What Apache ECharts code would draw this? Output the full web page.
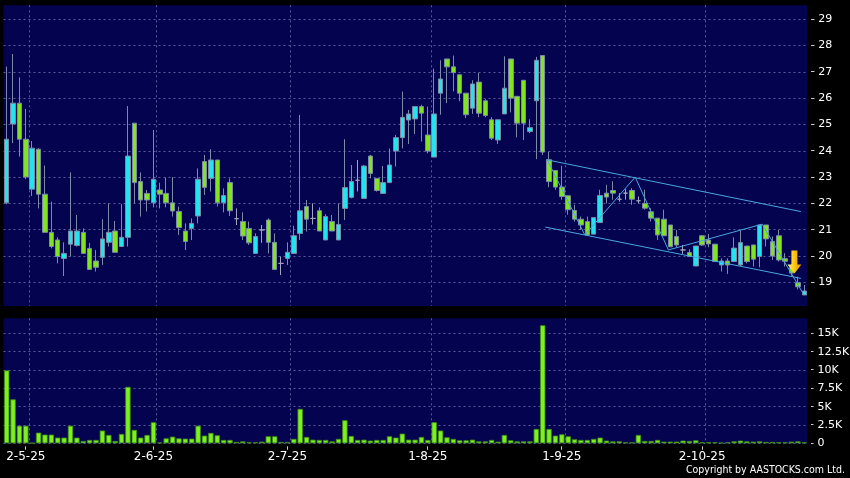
<!DOCTYPE html>
<html><head><meta charset="utf-8">
<script src="https://cdn.jsdelivr.net/npm/echarts@6/dist/echarts.min.js"></script>
<style>html,body{margin:0;padding:0;background:#000;}#c{width:850px;height:478px;}</style>
</head><body><div id="c"></div>
<script>
// HK trading days shown on the chart
const tradingDays = {
  '2025-04': [28,29,30],
  '2025-05': [2,6,7,8,9,12,13,14,15,16,19,20,21,22,23,26,27,28,29,30],
  '2025-06': [2,3,4,5,6,9,10,11,12,13,16,17,18,19,20,23,24,25,26,27,30],
  '2025-07': [2,3,4,7,8,9,10,11,14,15,16,17,18,21,22,23,24,25,28,29,30,31],
  '2025-08': [1,4,5,6,7,8,11,12,13,14,15,18,19,20,21,22,25,26,27,28,29],
  '2025-09': [1,2,3,4,5,8,9,10,11,12,15,16,17,18,19,22,23,24,25,26,29,30],
  '2025-10': [2,3,6,8,9,10,13,14,15,16,17,20,21,22,23,24,27]
};
const openP = [22.02,25.02,25.81,24.44,22.54,24.06,22.35,20.90,20.61,19.91,20.45,20.40,20.90,20.29,19.81,19.95,20.52,20.95,20.36,20.71,
25.05,22.83,22.38,22.02,22.51,22.38,22.02,21.69,20.95,21.05,21.52,23.59,22.95,23.65,22.02,22.79,21.42,21.31,21.05,20.10,
20.99,21.37,20.52,19.72,19.91,20.10,20.86,21.88,21.43,21.72,20.61,21.31,20.61,21.81,22.23,22.88,22.19,23.80,22.95,22.38,
22.79,23.99,24.50,25.17,25.21,25.68,24.60,23.76,26.19,27.49,27.19,26.89,26.19,25.62,26.61,25.90,25.18,24.41,25.40,27.49,
26.07,26.68,24.73,25.90,27.62,23.66,23.25,22.62,22.29,21.73,21.40,21.31,20.83,21.27,22.39,22.49,22.16,22.39,22.49,22.10,
22.00,21.68,21.44,21.40,21.18,20.74,20.23,20.13,19.62,20.77,20.61,20.45,19.66,19.81,19.79,19.66,20.38,20.42,19.98,21.18,
20.55,20.77,19.90,19.55,18.98,18.52];
const closeP = [24.44,25.81,24.44,23.00,24.10,22.35,20.90,20.36,19.98,20.10,20.95,20.95,20.10,19.49,19.57,20.65,20.90,20.14,20.71,23.80,
22.79,22.13,22.13,22.92,22.35,22.02,21.71,21.08,20.55,21.24,22.92,22.61,23.65,22.02,22.30,21.72,21.42,20.76,20.50,20.74,
20.99,20.52,19.49,19.72,20.14,20.77,21.72,21.40,21.43,20.95,21.50,20.95,21.20,22.60,22.83,22.88,23.42,23.14,22.49,22.79,
23.46,24.50,25.27,25.40,25.68,25.43,23.99,25.40,26.73,27.19,26.97,26.19,25.37,26.54,25.43,25.34,24.48,25.18,26.38,26.00,
25.05,25.05,24.88,27.44,23.95,22.83,22.62,22.26,21.76,21.40,21.18,20.80,21.46,22.30,22.24,22.39,22.16,22.39,22.16,22.10,
21.82,21.44,20.80,20.77,20.35,20.42,20.23,19.98,20.38,20.42,20.46,19.79,19.81,19.66,20.30,20.51,19.79,19.88,21.18,20.65,
20.00,19.85,19.80,19.35,18.83,18.67];
const lowP = [21.97,24.29,23.78,22.92,22.28,21.81,20.90,20.29,19.72,19.24,19.98,20.36,20.10,19.49,19.41,19.66,20.36,20.14,20.36,20.36,
22.00,21.50,21.69,21.85,21.81,21.85,21.50,20.80,20.23,20.61,21.24,22.32,22.45,21.88,21.66,21.52,21.18,20.61,20.42,20.10,
20.50,20.10,19.49,19.28,19.66,20.10,20.61,20.93,21.20,20.95,20.61,20.95,20.61,21.37,22.19,22.45,22.19,22.95,22.45,22.38,
22.79,23.40,24.09,24.26,24.64,24.35,23.90,23.76,25.37,25.81,26.26,25.88,25.24,25.40,25.28,25.28,24.41,24.26,25.40,25.46,
24.51,24.41,24.67,23.68,23.84,22.62,22.52,22.14,21.57,21.31,20.99,20.77,20.83,21.27,22.00,22.14,22.07,22.14,21.95,22.00,
21.76,21.31,20.61,20.77,20.35,20.33,20.08,19.98,19.62,20.38,20.33,19.79,19.41,19.32,19.79,19.62,19.72,19.60,19.57,20.36,
19.85,19.79,19.60,19.25,18.73,18.52];
const highP = [27.20,27.68,26.79,25.59,24.37,24.10,23.44,22.07,20.71,20.52,23.18,21.56,21.05,20.50,20.23,21.40,22.00,21.33,21.98,25.70,
25.05,23.18,22.51,24.79,22.79,22.98,23.00,21.88,21.24,21.43,23.33,23.84,24.06,23.65,22.57,22.95,21.81,21.66,21.31,20.86,
21.18,21.43,20.86,19.98,20.52,21.15,25.36,22.13,22.00,21.85,21.59,21.56,22.00,24.44,23.46,23.65,23.46,23.84,22.95,23.42,
24.09,24.60,26.25,25.55,25.68,25.75,25.68,27.12,27.44,27.49,27.62,26.89,26.19,26.68,26.96,25.96,25.28,25.18,27.59,27.49,
26.07,26.68,25.20,27.57,27.62,23.97,23.25,23.43,22.29,21.95,21.50,21.50,21.46,22.52,22.71,22.84,22.39,22.54,22.58,22.26,
22.52,21.82,21.44,21.76,21.18,20.99,20.42,20.26,20.38,20.80,20.84,20.45,19.91,19.91,20.71,20.97,20.38,20.42,21.18,21.18,
20.74,20.99,20.11,19.70,19.22,18.90];
// volume, thousands
const volumeK = [9.95,6.0,2.4,2.4,0.05,1.46,1.19,1.19,0.78,0.78,2.4,0.78,0.32,0.46,0.46,1.74,1.14,0.32,1.28,7.7,
1.83,0.78,1.14,2.88,0.1,0.68,0.91,0.68,0.64,0.64,2.4,1.05,1.42,1.1,0.46,0.46,0.18,0.27,0.14,0.14,
0.23,0.96,0.96,0.18,0.18,0.6,4.7,0.87,0.5,0.46,0.46,0.27,0.6,3.15,1.0,0.46,0.5,0.37,0.46,0.46,
0.96,0.78,1.32,0.5,0.5,0.87,0.46,2.88,1.74,0.82,0.6,0.41,0.41,0.5,0.27,0.27,0.46,0.23,1.14,0.41,
0.27,0.27,0.27,1.96,16.1,1.96,1.05,1.23,0.96,0.55,0.46,0.46,0.6,0.78,0.37,0.27,0.27,0.14,0.14,1.14,
0.32,0.32,0.46,0.23,0.23,0.23,0.37,0.32,0.41,0.14,0.14,0.14,0.09,0.14,0.27,0.37,0.27,0.23,0.27,0.18,
0.18,0.14,0.14,0.23,0.27,0.14];
const priceTicks = [19,20,21,22,23,24,25,26,27,28,29];
const volumeTicks = [0,2.5,5,7.5,10,12.5,15];
// drawn annotations, [candle index, price]
const upperChannel = [[84.6,23.66],[124.45,21.69]];
const lowerChannel = [[84.4,21.10],[124.45,19.15]];
const zigzag = [[84.7,23.66],[90.6,20.80],[98.5,23.00],[103.7,20.23],[118.4,21.21],[124.8,18.58]];
const signalArrow = [[123.45,19.77]];
const copyright = 'Copyright by AASTOCKS.com Ltd.';

const dates = [];
Object.keys(tradingDays).forEach(ym => tradingDays[ym].forEach(d => dates.push(ym + '-' + String(d).padStart(2,'0'))));
const N = dates.length;
const monthStartList = [];
dates.forEach((d,i) => { if (i > 0 && d.slice(0,7) !== dates[i-1].slice(0,7)) monthStartList.push(i); });
const monthStarts = new Set(monthStartList);
const monthGrid = monthStartList.map(i => i + 0.5);      // grid line after the first session of each month
const fmtDate = d => { const p = d.split('-'); return (+p[2]) + '-' + (+p[1]) + '-' + p[0].slice(2); };
const ohlc = dates.map((d,i) => [openP[i], closeP[i], lowP[i], highP[i]]);

const BG = '#03034f';
const gridLine = {show:true, lineStyle:{color:'#5a5a9a', type:[2,3], width:1}};
const FONT = 'DejaVu Sans';
const TICK = '#c8c8c8';
const crisp = v => Math.round(v - 0.5) + 0.5;
const valueX = (gridIndex) => ({type:'value', gridIndex, min:-0.5, max:N-0.5,
  axisLine:{show:false}, axisLabel:{show:false}, axisTick:{show:false, customValues:monthGrid}, splitLine:gridLine});

const chart = echarts.init(document.getElementById('c'), null, {renderer:'canvas'});
chart.setOption({
  backgroundColor:'#000',
  animation:false,
  grid:[
    {left:3.5, right:42.5, top:5.3, height:300.7, show:true, backgroundColor:BG, borderWidth:0, containLabel:false, outerBoundsMode:'none'},
    {left:3.5, right:42.5, top:318.3, height:125, show:true, backgroundColor:BG, borderWidth:0, containLabel:false, outerBoundsMode:'none'}
  ],
  xAxis:[
    {type:'category', gridIndex:0, data:dates, boundaryGap:true, show:false},
    {type:'category', gridIndex:1, data:dates, boundaryGap:true,
     axisLine:{show:false}, axisTick:{show:false}, splitLine:{show:false},
     axisLabel:{interval:(i)=>monthStarts.has(i), formatter:fmtDate, color:'#ffffff', fontSize:12, fontFamily:FONT, margin:8}},
    valueX(0),
    valueX(1)
  ],
  yAxis:[
    {type:'value', gridIndex:0, position:'right', min:18.1, max:29.53,
     axisLine:{show:false}, axisTick:{show:false, customValues:priceTicks},
     axisLabel:{customValues:priceTicks, color:'#ffffff', fontSize:11, fontFamily:FONT, margin:10.8},
     splitLine:gridLine},
    {type:'value', gridIndex:1, position:'right', min:0, max:17.05,
     axisLine:{show:false}, axisTick:{show:false, customValues:volumeTicks},
     axisLabel:{customValues:volumeTicks, formatter:(v)=> v===0 ? '0' : v + 'K', color:'#ffffff', fontSize:11, fontFamily:FONT, margin:10},
     splitLine:gridLine}
  ],
  series:[
    {type:'candlestick', xAxisIndex:0, yAxisIndex:0, data:ohlc, barWidth:5,
     itemStyle:{color:'#22e4ee', color0:'#80e41e', borderColor:'#7c8aa6', borderColor0:'#7c8aa6', borderColorDoji:'#a4a4bc', borderWidth:1}},
    {type:'bar', xAxisIndex:1, yAxisIndex:1, data:volumeK, barWidth:'84%',
     itemStyle:{color:'#7ef01e', borderColor:'#3f8a18', borderWidth:0.8}},
    {type:'line', xAxisIndex:2, yAxisIndex:0, data:upperChannel, symbol:'none', silent:true, z:5, lineStyle:{color:'#4aa6e0', width:1}},
    {type:'line', xAxisIndex:2, yAxisIndex:0, data:lowerChannel, symbol:'none', silent:true, z:5, lineStyle:{color:'#4aa6e0', width:1}},
    {type:'line', xAxisIndex:2, yAxisIndex:0, data:zigzag, symbol:'none', silent:true, z:5, lineStyle:{color:'#4aa6e0', width:1}},
    {type:'scatter', xAxisIndex:2, yAxisIndex:0, data:signalArrow, silent:true, z:10,
     symbol:'path://M4,0 L10,0 L10,14 L14,14 L7,23 L0,14 L4,14 Z', symbolSize:[14,23],
     itemStyle:{opacity:1, color:new echarts.graphic.LinearGradient(0,0,1,0,[{offset:0,color:'#fff0a0'},{offset:0.45,color:'#ffcc10'},{offset:1,color:'#e08a00'}])}},
    // small outside tick marks of the price axis
    {type:'custom', xAxisIndex:2, yAxisIndex:0, clip:false, silent:true, data:priceTicks.map(v => [N-0.5, v]),
     renderItem:(p, api) => { const c = api.coord([api.value(0), api.value(1)]); const y = crisp(c[1]);
       return {type:'line', shape:{x1:c[0]+3.5, y1:y, x2:c[0]+7, y2:y}, style:{stroke:TICK, lineWidth:1}}; }},
    // small outside tick marks of the volume axis
    {type:'custom', xAxisIndex:3, yAxisIndex:1, clip:false, silent:true, data:volumeTicks.map(v => [N-0.5, v]),
     renderItem:(p, api) => { const c = api.coord([api.value(0), api.value(1)]); const y = crisp(c[1]);
       return {type:'line', shape:{x1:c[0]+3.5, y1:y, x2:c[0]+6, y2:y}, style:{stroke:TICK, lineWidth:1}}; }},
    // date tick marks under the volume panel
    {type:'custom', xAxisIndex:3, yAxisIndex:1, clip:false, silent:true, data:monthStartList.map(i => [i, 0]),
     renderItem:(p, api) => { const c = api.coord([api.value(0), api.value(1)]); const x = crisp(c[0]);
       return {type:'line', shape:{x1:x, y1:c[1]+3, x2:x, y2:c[1]+6.5}, style:{stroke:TICK, lineWidth:1}}; }}
  ],
  graphic:[
    {type:'text', right:5, top:465, style:{text:copyright, fill:'#ffffff', font:'10.5px "DejaVu Sans Condensed", "DejaVu Sans"'}}
  ]
});
</script></body></html>
